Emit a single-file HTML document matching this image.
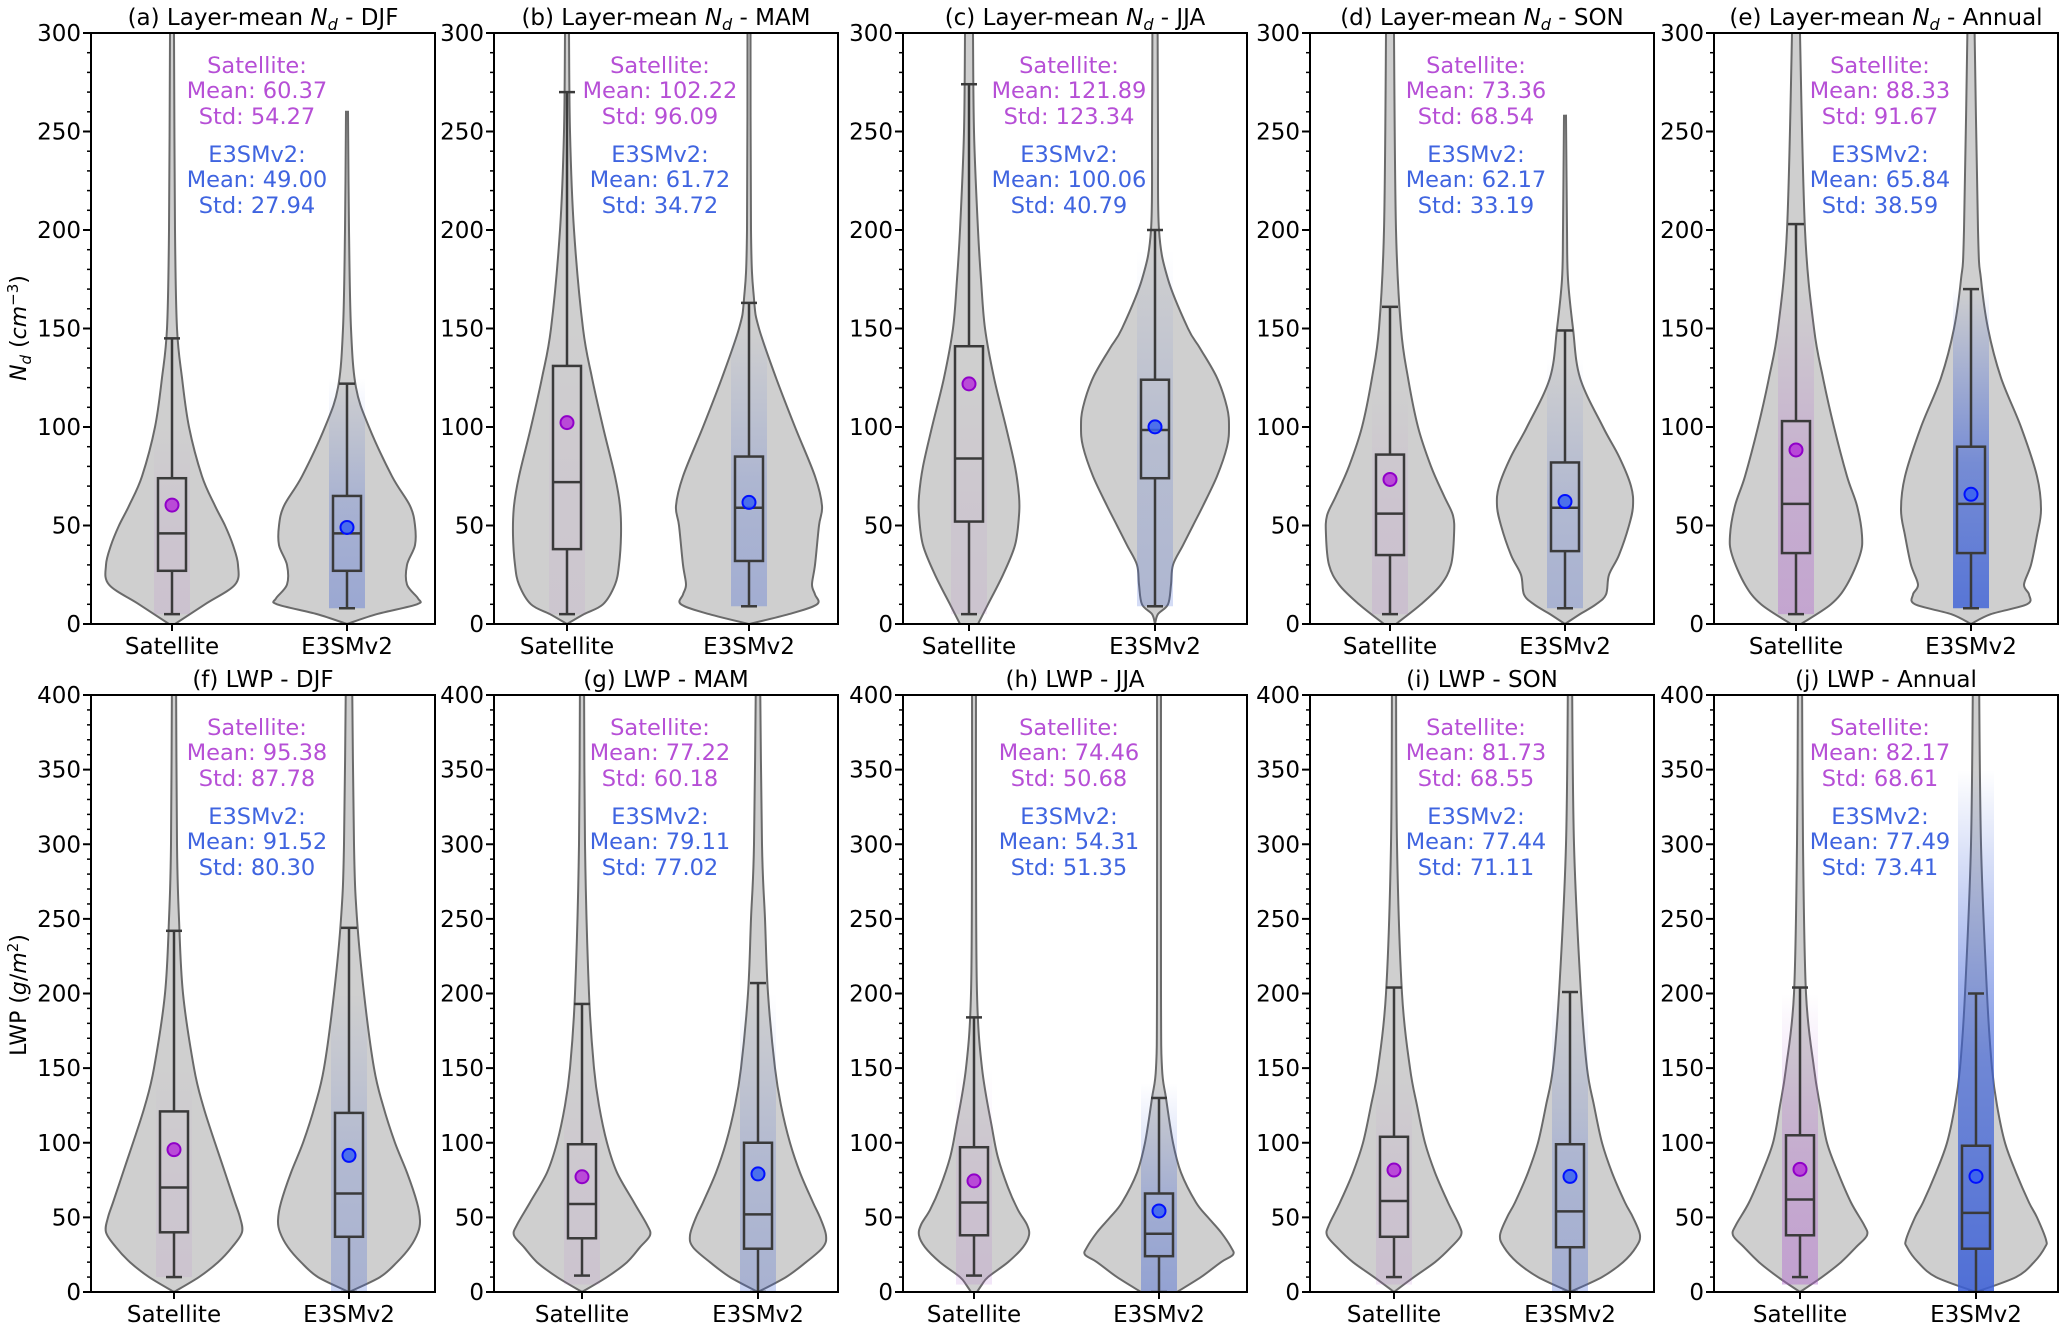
<!DOCTYPE html>
<html><head><meta charset="utf-8"><title>Violin plots Nd and LWP</title>
<style>
html,body{margin:0;padding:0;background:#fff;}
svg{display:block;font-family:"DejaVu Sans","Liberation Sans",sans-serif;}
</style></head>
<body>
<svg id="chart" width="2067" height="1324" viewBox="0 0 2067 1324" xmlns="http://www.w3.org/2000/svg">
<defs id="defs"></defs>
</svg>
<script>
// ---------- DATA ----------
const panelLetters = ["a","b","c","d","e","f","g","h","i","j"];
const panelSeasons = ["DJF","MAM","JJA","SON","Annual","DJF","MAM","JJA","SON","Annual"];
const categories = ["Satellite","E3SMv2"];
const satMeans = [60.37,102.22,121.89,73.36,88.33,95.38,77.22,74.46,81.73,82.17];
const satStds  = [54.27,96.09,123.34,68.54,91.67,87.78,60.18,50.68,68.55,68.61];
const e3Means  = [49.00,61.72,100.06,62.17,65.84,91.52,79.11,54.31,77.44,77.49];
const e3Stds   = [27.94,34.72,40.79,33.19,38.59,80.30,77.02,51.35,71.11,73.41];
const satWhisLo = [5,5,5,5,5,10,11,11,10,10];
const satWhisHi = [145,270,274,161,203,242,193,184,204,204];
const satQ1  = [27,38,52,35,36,40,36,38,37,38];
const satMed = [46,72,84,56,61,70,59,60,61,62];
const satQ3  = [74,131,141,86,103,121,99,97,104,105];
const e3WhisLo = [8,9,9,8,8,0,0,0,0,0];
const e3WhisHi = [122,163,200,149,170,244,207,130,201,200];
const e3Q1  = [27,32,74,37,36,37,29,24,30,29];
const e3Med = [46,59,98.5,59,61,66,52,39,54,53];
const e3Q3  = [65,85,124,82,90,120,100,66,99,98];
// violin density profiles: values and half-widths (density, px units)
const satProfVals = [
 [0,10,20,30,40,50,60,75,100,125,150,200,300,320],
 [0,5,10,20,30,45,60,75,100,125,150,200,250,300,320],
 [0,10,25,40,55,65,80,100,125,150,175,200,250,300,320],
 [0,10,20,30,45,55,65,80,100,125,150,200,300,320],
 [0,10,20,35,45,60,75,100,125,150,200,300,320],
 [0,10,20,30,40,50,60,80,100,125,150,200,250,300,420],
 [0,10,20,30,38,45,60,80,100,125,150,200,300,420],
 [0,5,10,20,30,38,45,55,70,90,110,150,200,300,420],
 [0,10,20,30,38,45,60,80,100,125,150,200,300,420],
 [0,10,20,30,38,45,60,80,100,125,150,200,300,420]];
const satProfW = [
 [3,33,63,66,61,53,43,30,17,10,5,3,2,2],
 [0,17,36,48,52,54,53,48,36,25,16,7,3,2,2],
 [9,19,34,46,50,50,46,37,25,16,12,9,5,4,4],
 [6,31,51,61,64,63,54,41,28,18,11,6,4,4],
 [5,35,51,64,66,61,51,38,27,18,9,4,4],
 [0,25,44,58,68,66,61,51,41,29,20,9,5,3,2],
 [0,25,45,58,68,65,52,35,25,17,12,7,3,2],
 [3,8,14,34,49,55,53,44,34,24,18,8,3,2,2],
 [0,20,41,57,67,65,54,41,31,23,16,8,3,2],
 [0,22,41,56,67,64,51,38,27,20,14,6,3,2]];
const e3ProfVals = [
 [0,5,10,13,20,30,40,50,60,75,100,120,150,200,260],
 [0,5,10,15,20,30,50,60,75,100,125,150,165,200,320],
 [0,5,10,20,30,40,50,60,75,90,100,110,125,140,150,175,200,250,320],
 [0,5,10,15,25,35,50,60,70,85,100,125,150,175,200,258],
 [0,5,10,15,20,30,45,58,75,100,125,150,175,200,320],
 [0,10,20,30,40,48,60,80,100,125,150,200,250,300,420],
 [0,10,20,30,38,50,60,80,100,125,150,200,250,300,420],
 [0,10,20,25,30,40,50,60,80,100,130,150,200,420],
 [0,10,20,30,38,50,60,80,100,125,150,200,300,420],
 [0,10,20,30,35,50,60,80,100,125,150,200,300,420]];
const e3ProfW = [
 [0,30,70,71,60,60,68,68,63,45,22,9,4,2,1],
 [0,40,68,66,63,66,70,73,66,46,27,10,5,2,1.5],
 [0,3,13,16,18,28,38,48,62,72,74,72,62,45,33,13,4,3,2.5],
 [0,15,31,41,44,54,64,68,66,54,38,15,8,3,2,1],
 [0,20,56,58,53,60,66,70,66,50,30,17,10,7,3],
 [0,31,48,61,69,71,68,58,46,34,25,15,8,5,3],
 [0,28,48,65,68,62,55,42,32,23,17,10,7,4,2],
 [18,42,62,74,72,62,49,37,22,14,7,3,2,2],
 [0,32,53,66,70,63,55,42,32,24,17,11,4,2],
 [0,40,58,69,70,61,53,40,29,21,16,11,5,3]];
// jitter strip extents (value range) and strength
const satStripLo = [5,5,5,5,5,10,5,5,5,5];
const satStripHi = [100,150,130,120,170,150,150,150,150,200];
const satStripAlpha = [0.12,0.08,0.1,0.14,0.38,0.1,0.1,0.16,0.14,0.42];
const e3StripLo = [8,9,9,8,8,0,0,0,0,0];
const e3StripHi = [125,150,190,135,170,200,200,140,200,350];
const e3StripAlpha = [0.35,0.3,0.22,0.26,0.8,0.26,0.26,0.4,0.3,0.85];

// ---------- LAYOUT ----------
const rows = [{top:33,bot:624,max:300,step:50,minor:10},{top:695,bot:1292,max:400,step:50,minor:10}];
const panelLeft = [91,494,903,1310,1714];
const panelW = 344;
const satX = [172,567,969,1390,1796,174,582,974,1394,1800];
const e3X  = [347,749,1155,1565,1971,349,758,1159,1570,1976];
const SAT_TXT = "#b64fd6", E3_TXT = "#3f64e0";
const NS = "http://www.w3.org/2000/svg";
const svg = document.getElementById('chart');
const defs = document.getElementById('defs');

function mk(tag, attrs, parent){
  const e = document.createElementNS(NS, tag);
  for (const k in attrs) e.setAttribute(k, attrs[k]);
  (parent||svg).appendChild(e);
  return e;
}
function crPath(pts){
  let d = "";
  for (let i=0;i<pts.length-1;i++){
    const p0=pts[Math.max(0,i-1)], p1=pts[i], p2=pts[i+1], p3=pts[Math.min(pts.length-1,i+2)];
    const c1x=p1[0]+(p2[0]-p0[0])/6, c1y=p1[1]+(p2[1]-p0[1])/6;
    const c2x=p2[0]-(p3[0]-p1[0])/6, c2y=p2[1]-(p3[1]-p1[1])/6;
    d += ` C${c1x.toFixed(1)},${c1y.toFixed(1)} ${c2x.toFixed(1)},${c2y.toFixed(1)} ${p2[0].toFixed(1)},${p2[1].toFixed(1)}`;
  }
  return d;
}

for (let p=0;p<10;p++){
  const r = rows[p<5?0:1];
  const col = p%5;
  const L = panelLeft[col];
  const yS = v => r.bot - (v/r.max)*(r.bot-r.top);
  const g = mk('g',{});
  
  
  const clip = mk('clipPath',{id:'clip'+p}, defs);
  mk('rect',{x:L,y:r.top,width:panelW,height:r.bot-r.top}, clip);
  const plot = mk('g',{'clip-path':`url(#clip${p})`}, g);

  const groups = [
    {name:'satellite', x:satX[p], pv:satProfVals[p], pw:satProfW[p], lo:satWhisLo[p], hi:satWhisHi[p], q1:satQ1[p], med:satMed[p], q3:satQ3[p], mean:satMeans[p],
     sLo:satStripLo[p], sHi:satStripHi[p], sA:satStripAlpha[p], sc:"#b060d0", mfill:"#b535d8", medge:"#9000c8"},
    {name:'e3smv2', x:e3X[p], pv:e3ProfVals[p], pw:e3ProfW[p], lo:e3WhisLo[p], hi:e3WhisHi[p], q1:e3Q1[p], med:e3Med[p], q3:e3Q3[p], mean:e3Means[p],
     sLo:e3StripLo[p], sHi:e3StripHi[p], sA:e3StripAlpha[p], sc:"#3a5fd8", mfill:"#3a63f0", medge:"#0010ff"}
  ];
  groups.forEach(G=>{
    const right = G.pv.map((v,i)=>[G.x+G.pw[i], yS(v)]);
    const left = G.pv.map((v,i)=>[G.x-G.pw[i], yS(v)]).reverse();
    let d = `M${G.x},${yS(G.pv[0])} L${right[0][0]},${right[0][1]}` + crPath(right) + ` L${left[0][0]},${left[0][1]}` + crPath(left) + " Z";
    const vio = mk('path',{d:d, fill:"#cfcfcf", stroke:"#6a6a6a", 'stroke-width':2}, plot);
    
    
    const gid = 'grad'+p+G.name;
    const lg = mk('linearGradient',{id:gid,x1:0,y1:1,x2:0,y2:0}, defs);
    mk('stop',{offset:0,'stop-color':G.sc,'stop-opacity':G.sA}, lg);
    mk('stop',{offset:0.45,'stop-color':G.sc,'stop-opacity':G.sA*0.75}, lg);
    mk('stop',{offset:1,'stop-color':G.sc,'stop-opacity':0}, lg);
    const st = mk('rect',{x:G.x-18, y:yS(G.sHi), width:36, height:yS(G.sLo)-yS(G.sHi), fill:`url(#${gid})`}, plot);
    
    
    const bx = mk('g',{stroke:"#3a3a3a",'stroke-width':2.5,fill:"none"}, plot);
    
    
    mk('line',{x1:G.x,x2:G.x,y1:yS(G.lo),y2:yS(G.q1)}, bx);
    mk('line',{x1:G.x,x2:G.x,y1:yS(G.q3),y2:yS(G.hi)}, bx);
    mk('line',{x1:G.x-8,x2:G.x+8,y1:yS(G.lo),y2:yS(G.lo)}, bx);
    mk('line',{x1:G.x-8,x2:G.x+8,y1:yS(G.hi),y2:yS(G.hi)}, bx);
    mk('rect',{x:G.x-14,y:yS(G.q3),width:28,height:yS(G.q1)-yS(G.q3)}, bx);
    mk('line',{x1:G.x-14,x2:G.x+14,y1:yS(G.med),y2:yS(G.med)}, bx);
    const mc = mk('circle',{cx:G.x,cy:yS(G.mean),r:6.5,fill:G.mfill,'fill-opacity':0.85,stroke:G.medge,'stroke-width':2}, plot);
    
    
  });

  const fr = mk('rect',{x:L,y:r.top,width:panelW,height:r.bot-r.top,fill:"none",stroke:"#000",'stroke-width':2}, g);
  
  
  for (let v=0; v<=r.max; v+=r.minor){
    const major = v % r.step === 0;
    mk('line',{x1:L-(major?8:4),x2:L,y1:yS(v),y2:yS(v),stroke:"#000",'stroke-width':major?2:1.5}, g);
    if (major){
      const t = mk('text',{x:L-10,y:yS(v)+8,'text-anchor':'end','font-size':23,fill:"#000"}, g);
      t.textContent = v;
      
      
    }
  }
  [satX[p], e3X[p]].forEach((x,i)=>{
    mk('line',{x1:x,x2:x,y1:r.bot,y2:r.bot+7,stroke:"#000",'stroke-width':2}, g);
    const t = mk('text',{x:x,y:r.bot+30,'text-anchor':'middle','font-size':23,fill:"#000"}, g);
    t.textContent = categories[i];
    
    
  });
  const cx = L+panelW/2;
  const tt = mk('text',{x:cx,y:r.top-8,'text-anchor':'middle','font-size':23,fill:"#000"}, g);
  
  
  if (p<5){
    tt.innerHTML = `(${panelLetters[p]}) Layer-mean <tspan font-style="italic">N</tspan><tspan font-style="italic" font-size="16" dy="5">d</tspan><tspan dy="-5"> - ${panelSeasons[p]}</tspan>`;
  } else {
    tt.textContent = `(${panelLetters[p]}) LWP - ${panelSeasons[p]}`;
  }
  const tx = cx-6;
  const lines = [
    ["Satellite:",SAT_TXT,32],["Mean: "+satMeans[p].toFixed(2),SAT_TXT,57],["Std: "+satStds[p].toFixed(2),SAT_TXT,83],
    ["E3SMv2:",E3_TXT,121],["Mean: "+e3Means[p].toFixed(2),E3_TXT,146],["Std: "+e3Stds[p].toFixed(2),E3_TXT,172]];
  const sg = mk('g',{}, g);
  
  
  lines.forEach(l=>{
    const t = mk('text',{x:tx,y:r.top+l[2]+8,'text-anchor':'middle','font-size':22.5,fill:l[1]}, sg);
    t.textContent = l[0];
  });
}
const yt1 = mk('text',{transform:'translate(26,328) rotate(-90)','text-anchor':'middle','font-size':22,fill:"#000"});


yt1.innerHTML = '<tspan font-style="italic">N</tspan><tspan font-style="italic" font-size="15" dy="5">d</tspan><tspan dy="-5"> (</tspan><tspan font-style="italic">cm</tspan><tspan font-size="15" dy="-8">−3</tspan><tspan dy="8">)</tspan>';
const yt2 = mk('text',{transform:'translate(26,995) rotate(-90)','text-anchor':'middle','font-size':22,fill:"#000"});


yt2.innerHTML = 'LWP (<tspan font-style="italic">g</tspan>/<tspan font-style="italic">m</tspan><tspan font-size="15" dy="-8">2</tspan><tspan dy="8">)</tspan>';
</script>
</body></html>
